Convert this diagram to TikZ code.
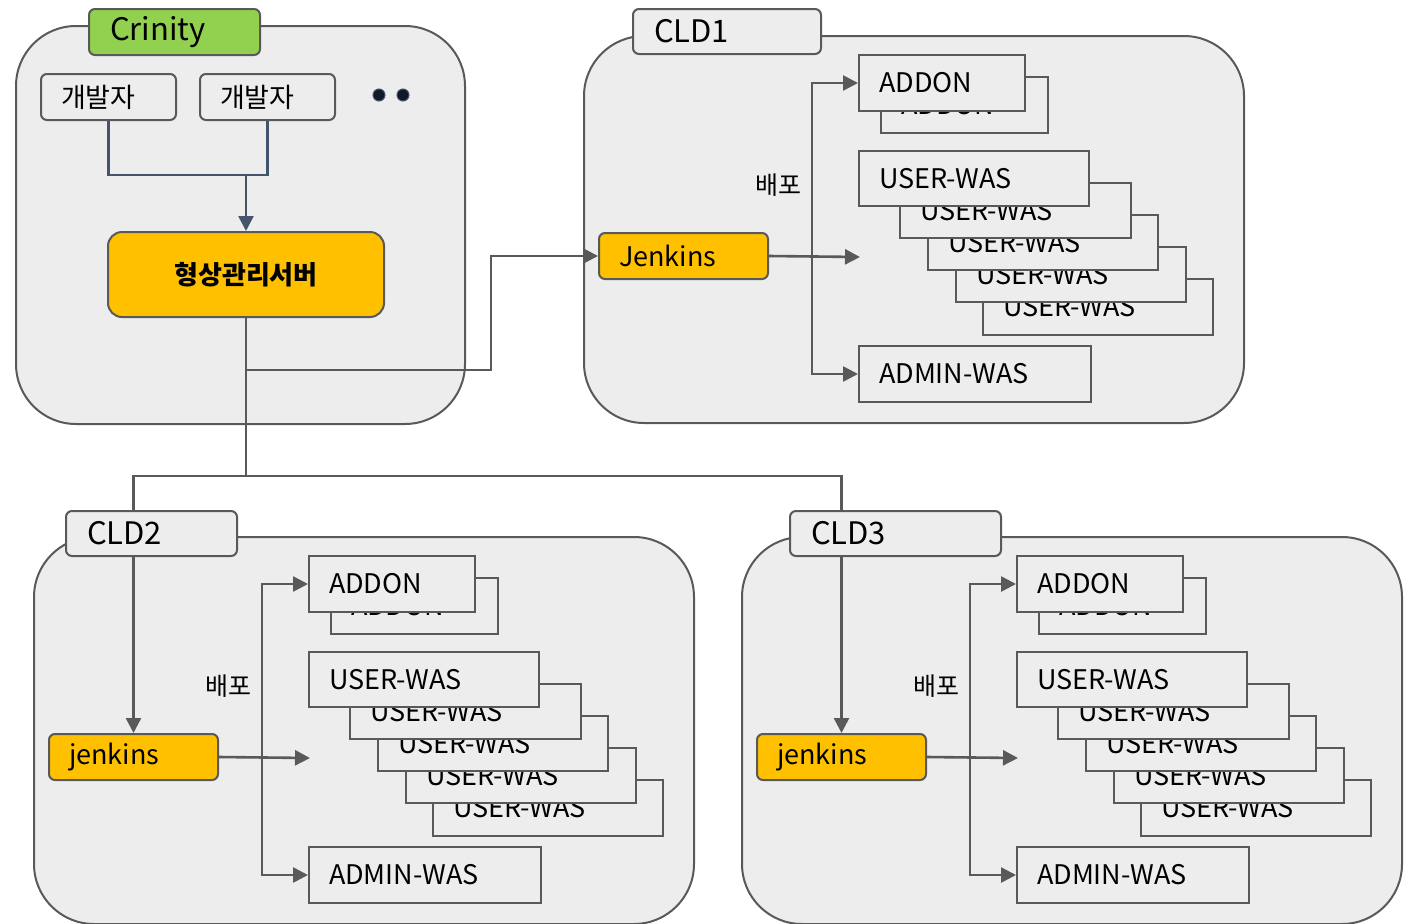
\documentclass[tikz,border=0pt]{standalone}
\usepackage{fontspec}
\setmainfont{Noto Sans CJK KR}
\usetikzlibrary{arrows.meta}
\definecolor{cfill}{HTML}{EDEDED}
\definecolor{cline}{HTML}{595959}
\definecolor{cyel}{HTML}{FFC000}
\definecolor{cgreen}{HTML}{92D050}
\definecolor{cnavy}{HTML}{44546A}
\definecolor{cdot}{HTML}{111827}
\tikzset{
 container/.style={draw=cline, fill=cfill, line width=2pt, rounded corners=60pt, anchor=north west, inner sep=0pt},
 wbox/.style={draw=cline, fill=cfill, line width=2pt, anchor=north west, inner xsep=20pt, inner ysep=0pt, align=left, font=\fontsize{27}{30}\selectfont},
 rbox/.style={wbox, rounded corners=6pt},
 tabbox/.style={wbox, rounded corners=6pt, inner xsep=21pt, font=\fontsize{31}{34}\selectfont},
 ybox/.style={wbox, fill=cyel, rounded corners=6pt},
 srvbox/.style={draw=cline, fill=cyel, line width=2pt, rounded corners=14pt, inner sep=0pt, font=\fontsize{26}{30}\selectfont\bfseries},
 arr/.style={draw=cline, line width=2.6pt, -{Triangle[length=15pt,width=15pt]}},
 conn/.style={draw=cline, line width=2.6pt},
 narr/.style={draw=cnavy, line width=2.6pt, -{Triangle[length=15pt,width=15pt]}},
 nconn/.style={draw=cnavy, line width=2.6pt},
 lbl/.style={font=\fontsize{25}{28}\selectfont, inner sep=0pt},
 dotn/.style={circle, fill=cdot, draw=cnavy, line width=1pt, minimum size=12pt, inner sep=0pt},
}
\newcommand\bx[7]{\pgfmathsetmacro\bxw{#5-#3-2*20}\pgfmathsetmacro\bxh{#6-#4}\node[#1,text width=\bxw pt,minimum height=\bxh pt] (#2) at (#3,#4) {#7};}
\newcommand\ct[5]{\pgfmathsetmacro\ctw{#4-#2}\pgfmathsetmacro\cth{#5-#3}\node[container,minimum width=\ctw pt,minimum height=\cth pt] (#1) at (#2,#3) {};}
\newcommand\cld[2]{%
 \ct{#1c}{583}{35}{1243}{422}
 \bx{wbox}{#1u5}{982}{278}{1212}{334}{USER-WAS}
 \bx{wbox}{#1u4}{955}{246}{1185}{301}{USER-WAS}
 \bx{wbox}{#1u3}{927}{214}{1157}{269}{USER-WAS}
 \bx{wbox}{#1u2}{899}{182}{1130}{237}{USER-WAS}
 \bx{wbox}{#1u1}{858}{150}{1088}{205}{USER-WAS}
 \bx{wbox}{#1a2}{880}{76}{1047}{132}{ADDON}
 \bx{wbox}{#1a1}{858}{54}{1024}{110}{ADDON}
 \bx{wbox}{#1m}{858}{345}{1090}{401}{ADMIN-WAS}
 \bx{ybox}{#1j}{598}{232}{767}{278}{#2}
 \coordinate (#1d) at (812,255);
 \draw[arr] (#1d) |- (#1a1.west);
 \draw[arr] (#1d) |- (#1m.west);
 \coordinate (#1t) at (860,257);
 \draw[arr] (#1j.east) -- (#1t);
 \node[lbl] (#1l) at (778,185) {배포};
}
\begin{document}
\begin{tikzpicture}[x=1pt,y=-1pt]
\useasboundingbox (0,0) rectangle (1417,924);
% Crinity group
\ct{crc}{15}{25}{464}{423}
\bx{rbox}{dev1}{40}{73}{175}{119}{개발자}
\bx{rbox}{dev2}{199}{73}{334}{119}{개발자}
\node[dotn] (dot1) at (379,95) {};
\node[dotn] (dot2) at (403,95) {};
\node[srvbox, minimum width=276pt, minimum height=85pt] (srv) at (246,274.5) {형상관리서버};
% clouds
\cld{a}{Jenkins}
\begin{scope}[shift={(-550,501)}]
\cld{b}{jenkins}
\end{scope}
\begin{scope}[shift={(158,501)}]
\cld{c}{jenkins}
\end{scope}
% connectors
\coordinate (j0) at (246,175);
\draw[nconn] (dev1.south) |- (j0);
\draw[nconn] (dev2.south) |- (j0);
\draw[narr] (j0) -- (srv.north);
\coordinate (j1) at (491,370);
\draw[arr] (srv.south) |- (j1) |- (aj.west);
\coordinate (j2) at (246,476);
\draw[conn] (srv.south) -- (j2);
\draw[arr] (j2) -| (bj.north);
\draw[arr] (j2) -| (cj.north);
% tabs
\bx{tabbox,fill=cgreen}{tcr}{88}{8}{257}{54}{Crinity}
\bx{tabbox}{t1}{632}{8}{818}{53}{CLD1}
\bx{tabbox}{t2}{65}{510}{234}{555}{CLD2}
\bx{tabbox}{t3}{789}{510}{998}{555}{CLD3}
\end{tikzpicture}
\end{document}
